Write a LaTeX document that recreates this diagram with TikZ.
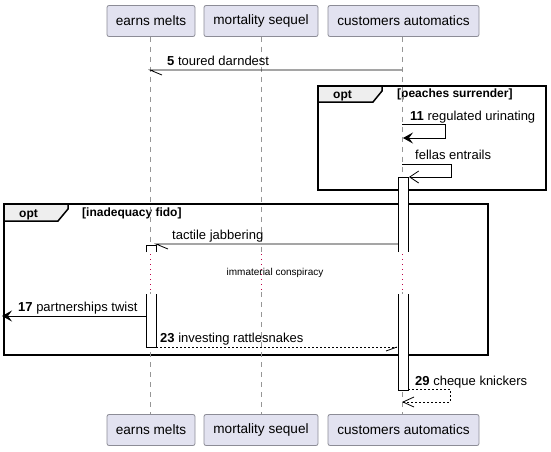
\documentclass[tikz,border=0pt]{standalone}
\usepackage{fontspec}
\setmainfont{Liberation Sans}
\usetikzlibrary{arrows.meta}
\definecolor{partfill}{RGB}{226,226,240}
\definecolor{partdraw}{RGB}{140,140,150}
\definecolor{lifegray}{RGB}{150,150,150}
\definecolor{delayred}{RGB}{190,0,70}
\definecolor{tabfill}{RGB}{238,238,238}
\tikzset{
  part/.style={draw=partdraw, fill=partfill, rounded corners=2pt, minimum height=31pt, inner sep=0pt, font=\fontsize{13.6}{15}\selectfont, line width=0.8pt},
  lifeline/.style={draw=lifegray, dash pattern=on 5pt off 5pt, line width=0.7pt},
  delayline/.style={draw=delayred, dash pattern=on 1pt off 4pt, line width=0.8pt},
  msg/.style={draw=black, line width=0.8pt},
  dmsg/.style={draw=black, line width=0.8pt, dash pattern=on 2pt off 2pt},
  actbar/.style={draw=black, fill=white, line width=0.8pt},
  frame/.style={draw=black, line width=1.5pt},
  tabbox/.style={draw=black, fill=tabfill, line width=1.5pt},
  lbl/.style={font=\fontsize{13}{15}\selectfont, anchor=base west, inner sep=0pt},
  flbl/.style={font=\fontsize{12}{14}\selectfont\bfseries, anchor=base west, inner sep=0pt},
  filledtip/.style={-{Stealth[length=10pt,width=11pt,inset=4pt]}},
  opentip/.style={-{Straight Barb[length=9pt,width=12pt]}},
}
\begin{document}
\begin{tikzpicture}[x=1pt,y=-1pt]
\useasboundingbox (0,0) rectangle (551,451);
% frames
\draw[frame] (318,86) rectangle (546,190);
\draw[tabbox] (318,86) -- (382,86) -- (382,91) -- (373,102) -- (318,102) -- cycle;
\node[flbl] (f1t) at (333,98) {opt};
\node[flbl] (f1c) at (397,97) {[peaches surrender]};
\draw[frame] (4,204) rectangle (488,355);
\draw[tabbox] (4,204) -- (68,204) -- (68,209) -- (58,221) -- (4,221) -- cycle;
\node[flbl] (f2t) at (19,217) {opt};
\node[flbl] (f2c) at (82,216) {[inadequacy fido]};
% participants
\node[part, minimum width=88pt] (a1) at (151,21) {earns melts};
\node[part, minimum width=114pt] (b1) at (261,21) {mortality sequel};
\node[part, minimum width=151pt] (c1) at (403.5,21) {customers automatics};
\node[part, minimum width=88pt] (a2) at (151,430) {earns melts};
\node[part, minimum width=114pt] (b2) at (261,430) {mortality sequel};
\node[part, minimum width=151pt] (c2) at (403.5,430) {customers automatics};
% lifelines
\foreach \n/\x in {a/150,b/261,c/402}{
  \coordinate (\n d1) at (\x,254);
  \coordinate (\n d2) at (\x,292);
  \draw[lifeline] (\x,36.5) -- (\n d1);
  \draw[delayline] (\n d1) -- (\n d2);
  \draw[lifeline] (\n d2) -- (\x,413.5);
}
% activation bars
\fill[white] (398,177) rectangle (408,252);
\draw[actbar] (398,252) -- (398,177) -- (408,177) -- (408,252);
\fill[white] (398,294) rectangle (408,390);
\draw[actbar] (398,294) -- (398,390) -- (408,390) -- (408,294);
\fill[white] (146,245) rectangle (156,252);
\draw[actbar] (146,252) -- (146,245) -- (156,245) -- (156,252);
\fill[white] (146,294) rectangle (156,347);
\draw[actbar] (146,294) -- (146,347) -- (156,347) -- (156,294);
% message 5
\coordinate (m5s) at (402,70);
\coordinate (m5e) at (150,70);
\draw[msg] (m5s) -- (m5e) -- (162,75);
\node[lbl] (m5l) at (167,65) {\textbf{5} toured darndest};
% message 11
\coordinate (m11s) at (402,124);
\coordinate (m11e) at (403,138);
\draw[msg, filledtip] (m11s) -- (445,124) -- (445,138) -- (m11e);
\node[lbl] (m11l) at (410,120) {\textbf{11} regulated urinating};
% fellas entrails
\coordinate (mfs) at (402,164);
\coordinate (mfe) at (409,177);
\draw[msg, opentip] (mfs) -- (451,164) -- (451,177) -- (mfe);
\node[lbl] (mfl) at (415,159) {fellas entrails};
% tactile jabbering
\coordinate (mts) at (398,244);
\coordinate (mte) at (156,244);
\draw[msg] (mts) -- (mte) -- (168,249);
\node[lbl] (mtl) at (172,239) {tactile jabbering};
% delay
\node[font=\fontsize{10}{12}\selectfont, inner sep=0pt] (delay) at (275,273) {immaterial conspiracy};
% message 17
\coordinate (m17s) at (146,316);
\coordinate (m17e) at (2,316);
\draw[msg, filledtip] (m17s) -- (m17e);
\node[lbl] (m17l) at (18,311) {\textbf{17} partnerships twist};
% message 23
\coordinate (m23s) at (156,347);
\coordinate (m23e) at (397,347);
\draw[dmsg] (m23s) -- (m23e);
\draw[msg] (m23e) -- (386,351);
\node[lbl] (m23l) at (160,342) {\textbf{23} investing rattlesnakes};
% message 29
\coordinate (m29s) at (408,389);
\coordinate (m29e) at (403,402);
\draw[dmsg] (m29s) -- (450,389) -- (450,402) -- (m29e);
\draw[msg] (414,397) -- (m29e) -- (414,407);
\node[lbl] (m29l) at (415,385) {\textbf{29} cheque knickers};
\end{tikzpicture}
\end{document}
